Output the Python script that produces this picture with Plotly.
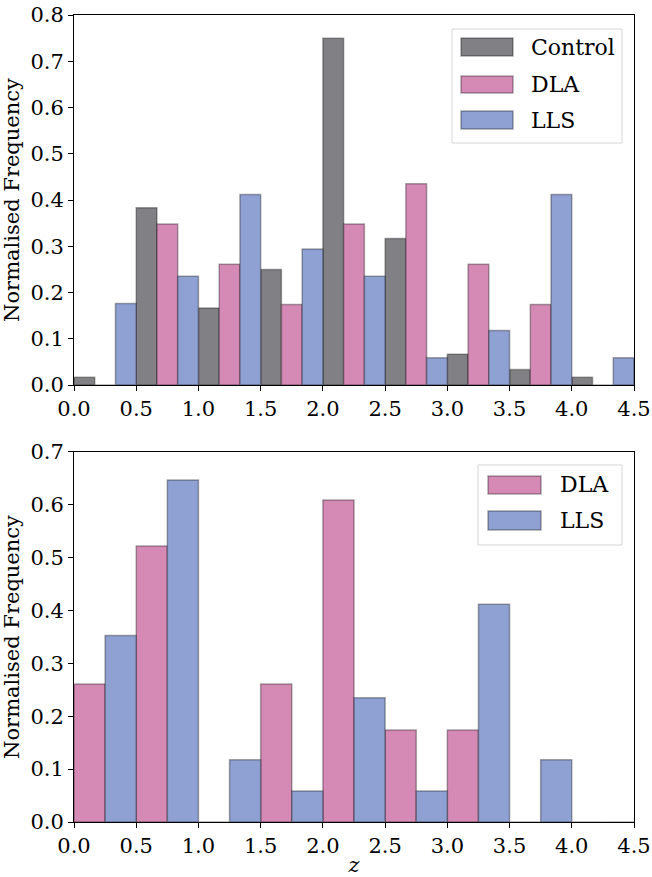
import plotly.graph_objects as go
import numpy as np

# ---- data ----
bin_starts = [0.0, 0.5, 1.0, 1.5, 2.0, 2.5, 3.0, 3.5, 4.0]
bin_width = 0.5

top_control = [0.0167, 0.383, 0.1667, 0.250, 0.750, 0.3167, 0.0667, 0.0333, 0.0167]
top_dla = [0.0, 0.348, 0.261, 0.174, 0.348, 0.435, 0.261, 0.174, 0.0]
top_lls = [0.176, 0.235, 0.412, 0.294, 0.235, 0.0588, 0.1176, 0.412, 0.0588]

bot_dla = [0.261, 0.522, 0.0, 0.261, 0.609, 0.174, 0.174, 0.0, 0.0]
bot_lls = [0.353, 0.647, 0.118, 0.0588, 0.235, 0.0588, 0.412, 0.118, 0.0]

x_ticks = [0.0, 0.5, 1.0, 1.5, 2.0, 2.5, 3.0, 3.5, 4.0, 4.5]
top_y_ticks = [0.0, 0.1, 0.2, 0.3, 0.4, 0.5, 0.6, 0.7, 0.8]
bot_y_ticks = [0.0, 0.1, 0.2, 0.3, 0.4, 0.5, 0.6, 0.7]

# ---- styles ----
C_CONTROL = "#818085"
C_DLA = "#d48ab5"
C_LLS = "#8fa0d2"
EDGE = "rgba(0,0,0,0.33)"
FONT = "'DejaVu Serif', serif"
FS = 21

fig = go.Figure()

def add_group(series, colors, names, xaxis, yaxis):
    n = len(series)
    w = bin_width / n
    starts = np.array(bin_starts)
    for i, (vals, col, nm) in enumerate(zip(series, colors, names)):
        fig.add_trace(go.Bar(
            x=starts + (i + 0.5) * w, y=vals, width=w, name=nm,
            marker=dict(color=col, line=dict(color=EDGE, width=1.5)),
            xaxis=xaxis, yaxis=yaxis, showlegend=False))

add_group([top_control, top_dla, top_lls], [C_CONTROL, C_DLA, C_LLS],
          ["Control", "DLA", "LLS"], "x", "y")
add_group([bot_dla, bot_lls], [C_DLA, C_LLS], ["DLA", "LLS"], "x2", "y2")

axis_common = dict(showline=True, mirror=True, linecolor="black", linewidth=1,
                   ticks="outside", ticklen=5, tickcolor="black", showgrid=False,
                   zeroline=False, automargin=False,
                   tickfont=dict(family=FONT, size=FS, color="black"))

fig.update_layout(
    width=652, height=877, margin=dict(l=74, r=18, t=15, b=55),
    paper_bgcolor="white", plot_bgcolor="white", barmode="overlay",
    font=dict(family=FONT, color="black"),
    xaxis=dict(domain=[0, 1], range=[0, 4.5], tickvals=x_ticks,
               ticktext=[f"{v:.1f}" for v in x_ticks], anchor="y", **axis_common),
    yaxis=dict(domain=[0.5415, 1], range=[0, 0.8], tickvals=top_y_ticks,
               ticktext=[f"{v:.1f}" for v in top_y_ticks], anchor="x",
               title=dict(text="Normalised Frequency", font=dict(family=FONT, size=FS), standoff=6),
               **axis_common),
    xaxis2=dict(domain=[0, 1], range=[0, 4.5], tickvals=x_ticks,
                ticktext=[f"{v:.1f}" for v in x_ticks], anchor="y2",
                title=dict(text="<i>z</i>", font=dict(family=FONT, size=FS), standoff=2),
                **axis_common),
    yaxis2=dict(domain=[0, 0.4585], range=[0, 0.7], tickvals=bot_y_ticks,
                ticktext=[f"{v:.1f}" for v in bot_y_ticks], anchor="x2",
                title=dict(text="Normalised Frequency", font=dict(family=FONT, size=FS), standoff=6),
                **axis_common),
)

# ---- manual legends (panel-relative pixel layout) ----
PW = 560.0
PH = 370.0

def legend(xref, yref, box, entries):
    def fx(px):
        return px / PW
    def fy(py):
        return 1 - py / PH
    x0, y0, x1, y1 = box
    fig.add_shape(type="rect", xref=xref, yref=yref, x0=fx(x0), x1=fx(x1), y0=fy(y0), y1=fy(y1),
                  line=dict(color="#d6d6d6", width=1), fillcolor="rgba(255,255,255,0.8)", layer="above")
    for (sx0, sy0, sx1, sy1, tx, name, col) in entries:
        fig.add_shape(type="rect", xref=xref, yref=yref, x0=fx(sx0), x1=fx(sx1), y0=fy(sy0), y1=fy(sy1),
                      line=dict(color=EDGE, width=1.5), fillcolor=col, layer="above")
        fig.add_annotation(xref=xref, yref=yref, x=fx(tx), y=fy((sy0 + sy1) / 2), text=name,
                           showarrow=False, xanchor="left", yanchor="middle",
                           font=dict(family=FONT, size=FS + 1, color="black"))

# top panel: plot area origin at (74, 15)
legend("x domain", "y domain", (452 - 74, 29 - 15, 622 - 74, 143 - 15), [
    (461 - 74, 38 - 15, 513 - 74, 56 - 15, 529 - 74, "Control", C_CONTROL),
    (461 - 74, 76 - 15, 513 - 74, 93 - 15, 529 - 74, "DLA", C_DLA),
    (461 - 74, 111 - 15, 513 - 74, 129 - 15, 529 - 74, "LLS", C_LLS),
])
# bottom panel: plot area origin at (74, 452)
legend("x2 domain", "y2 domain", (478 - 74, 465 - 452, 622 - 74, 545 - 452), [
    (488 - 74, 476 - 452, 541 - 74, 494 - 452, 558 - 74, "DLA", C_DLA),
    (488 - 74, 511 - 452, 541 - 74, 530 - 452, 558 - 74, "LLS", C_LLS),
])

fig.write_html("out.html")
